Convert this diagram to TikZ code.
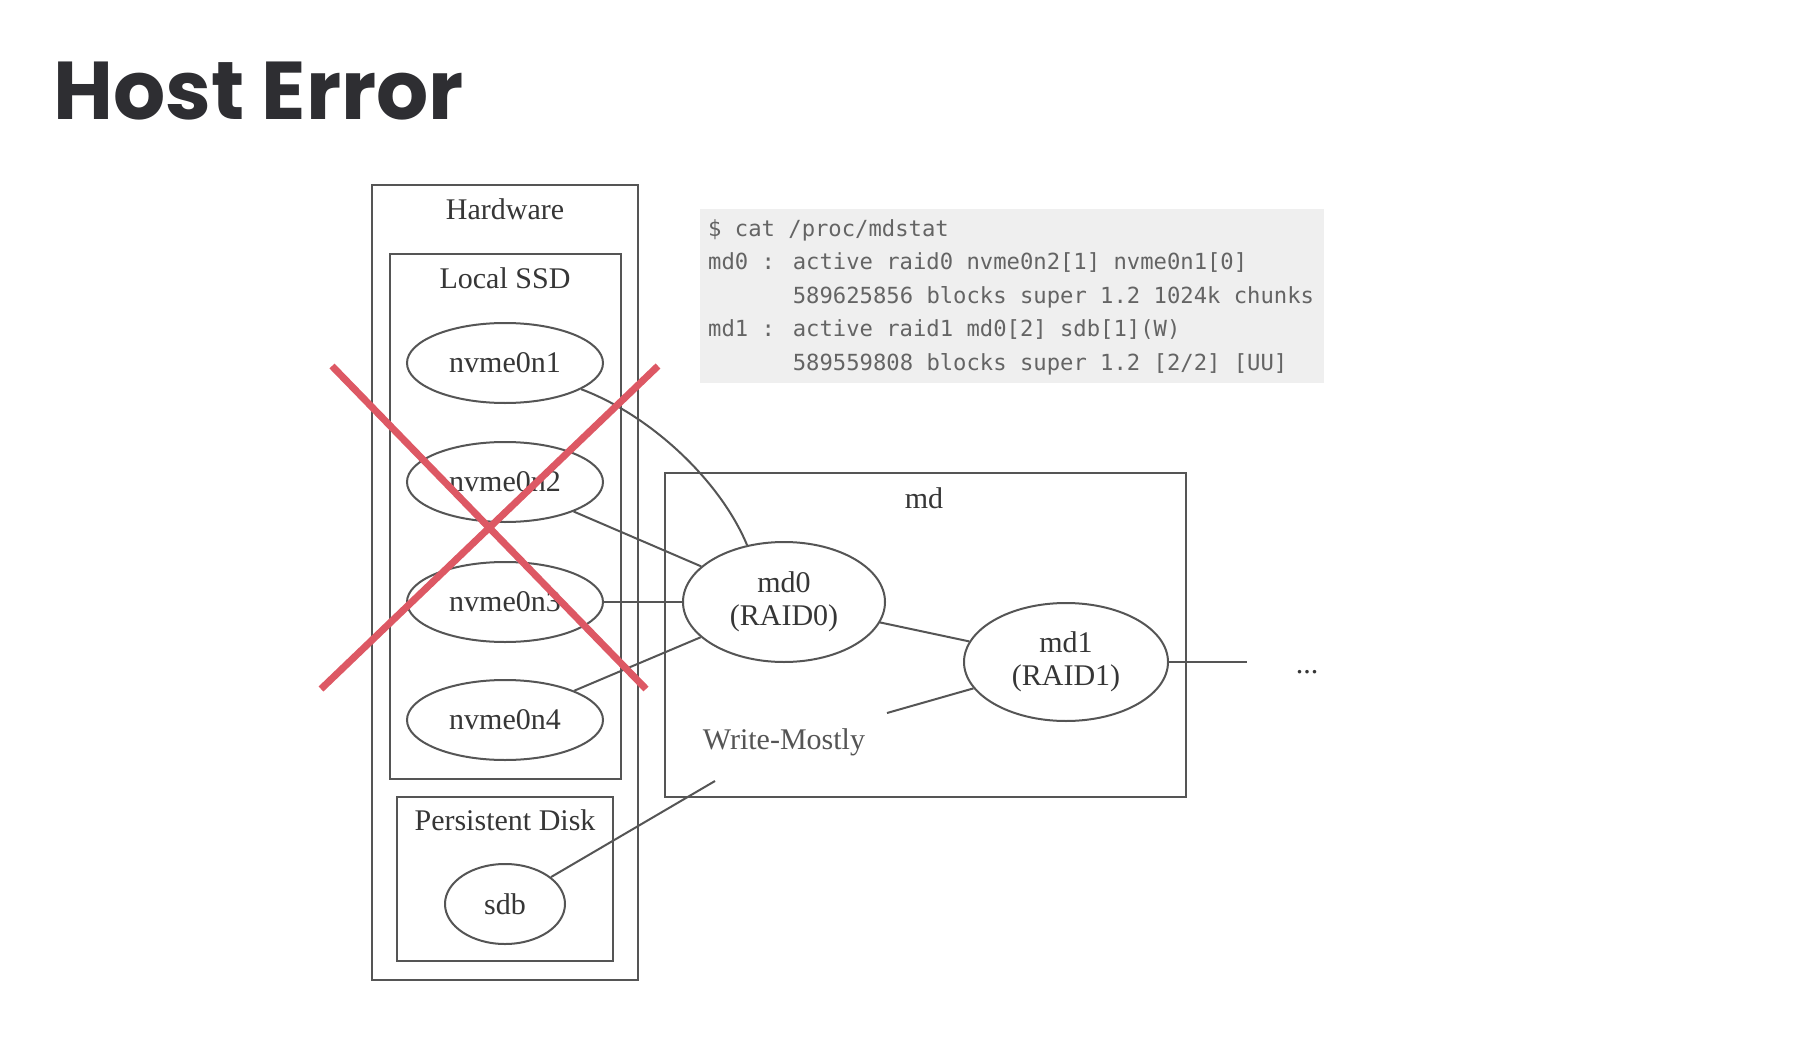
\documentclass[tikz,border=0pt]{standalone}
\usepackage{fontspec}
\setmainfont{Liberation Serif}
\newfontfamily\titlefont{Poppins}
\newfontfamily\codefont{DejaVu Sans Mono}
\usetikzlibrary{shapes.geometric}
\definecolor{ln}{HTML}{555555}
\definecolor{tx}{HTML}{363636}
\definecolor{xr}{RGB}{221,88,100}
\definecolor{codebg}{HTML}{EFEFEF}
\definecolor{codetx}{HTML}{646464}
\definecolor{ttl}{HTML}{2E2E32}
\begin{document}
\begin{tikzpicture}[x=1pt,y=-1pt,
 box/.style={draw=ln,line width=2pt,rectangle,inner sep=0pt},
 lbl/.style={text=tx,font=\fontsize{30}{33}\selectfont,anchor=base,inner sep=0pt},
 dev/.style={ellipse,draw=ln,line width=2pt,text=tx,font=\fontsize{30}{33}\selectfont,inner sep=0pt,align=center},
 edge/.style={draw=ln,line width=2pt},
 code/.style={text=codetx,font=\codefont\fontsize{22.2}{33}\selectfont,anchor=base west,inner sep=0pt},
 cross/.style={draw=xr,line width=7pt}]
\useasboundingbox[fill=white] (0,0) rectangle (1794,1038);

% title
\node[anchor=base west,inner sep=0pt,text=ttl,font=\titlefont\bfseries\fontsize{82}{90}\selectfont] (title) at (53,120) {Host Error};

% code block
\node[fill=codebg,minimum width=624pt,minimum height=174pt,inner sep=0pt] (codebg) at (1012,296) {};
\node[code] (c1) at (708,236) {\$ cat /proc/mdstat};
\node[code] (c2) at (708,269.5) {md0 : active raid0 nvme0n2[1] nvme0n1[0]};
\node[code] (c3) at (708,303) {\hphantom{md0 : }589625856 blocks super 1.2 1024k chunks};
\node[code] (c4) at (708,336) {md1 : active raid1 md0[2] sdb[1](W)};
\node[code] (c5) at (708,370) {\hphantom{md1 : }589559808 blocks super 1.2 [2/2] [UU]};

% containers
\node[box,minimum width=266pt,minimum height=795pt] (hw) at (505,582.5) {};
\node[lbl] (hwl) at (505,219) {Hardware};
\node[box,minimum width=231pt,minimum height=525pt] (ssd) at (505.5,516.5) {};
\node[lbl] (ssdl) at (505,288) {Local SSD};
\node[box,minimum width=216pt,minimum height=164pt] (pd) at (505,879) {};
\node[lbl] (pdl) at (505,830) {Persistent Disk};
\node[box,minimum width=521pt,minimum height=324pt] (md) at (925.5,635) {};
\node[lbl] (mdl) at (924,508) {md};

% devices
\node[dev,minimum width=196pt,minimum height=80pt] (n1) at (505,363) {nvme0n1};
\node[dev,minimum width=196pt,minimum height=80pt] (n2) at (505,482) {nvme0n2};
\node[dev,minimum width=196pt,minimum height=80pt] (n3) at (505,602) {nvme0n3};
\node[dev,minimum width=196pt,minimum height=80pt] (n4) at (505,720) {nvme0n4};
\node[dev,minimum width=120pt,minimum height=80pt] (sdb) at (505,904) {sdb};
\node[dev,minimum width=202pt,minimum height=120pt] (md0) at (784,602) {md0\\(RAID0)};
\node[dev,minimum width=204pt,minimum height=118pt] (md1) at (1066,662) {md1\\(RAID1)};

\node[lbl,text=ln] (wm) at (784,749) {Write-Mostly};
\node[lbl] (dots) at (1307,673) {...};

% edges
\coordinate (wmA) at (715,781);
\coordinate (wmB) at (887,713);
\coordinate (out) at (1247,662);
\draw[edge] (n1.-19) .. controls (650,415) and (720,480) .. (md0.123.5);
\draw[edge] (n2) -- (md0);
\draw[edge] (n3) -- (md0);
\draw[edge] (n4) -- (md0);
\draw[edge] (md0) -- (md1);
\draw[edge] (md1) -- (out);
\draw[edge] (sdb) -- (wmA);
\draw[edge] (wmB) -- (md1);

% red cross
\coordinate (xa1) at (332,366);
\coordinate (xb1) at (646,689);
\coordinate (xa2) at (658,366);
\coordinate (xb2) at (321,689);
\draw[cross] (xa1) -- (xb1);
\draw[cross] (xa2) -- (xb2);
\end{tikzpicture}
\end{document}
